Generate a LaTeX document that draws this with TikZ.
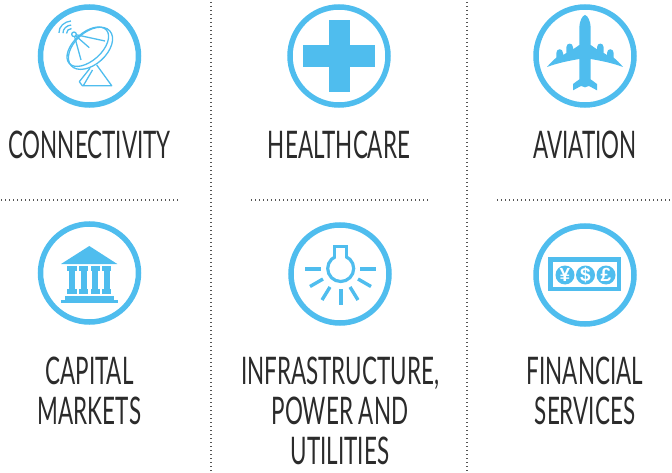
\documentclass[tikz,border=0pt]{standalone}
\usepackage{fontspec}
\setmainfont[FakeStretch=0.59]{Lato}
\newfontfamily\symf{Liberation Sans}
\definecolor{sky}{HTML}{4FBDEE}
\definecolor{ink}{HTML}{2B2B2B}
\tikzset{
  x=1pt,y=-1pt,
  ring/.style={draw=sky,line width=5.5pt,circle,minimum size=98pt,inner sep=0pt},
  lbl/.style={text=ink,font=\fontsize{38}{40}\selectfont,align=center,inner sep=0pt},
  dots/.style={draw=ink!80,line width=1.1pt,dash pattern=on 1.1pt off 2.9pt},
  thinline/.style={draw=sky,line width=1.3pt,line join=round,fill=none},
  bar/.style={draw=sky,line width=3.4pt},
  solid sky/.style={fill=sky,draw=none}
}
\begin{document}
\begin{tikzpicture}
\useasboundingbox (0,0) rectangle (672,473);
% dividers
\coordinate (v1a) at (211,2); \coordinate (v1b) at (211,472);
\coordinate (v2a) at (467,2); \coordinate (v2b) at (467,472);
\coordinate (h1a) at (1,200); \coordinate (h1b) at (179,200);
\coordinate (h2a) at (251,200); \coordinate (h2b) at (429,200);
\coordinate (h3a) at (497,200); \coordinate (h3b) at (672,200);
\draw[dots] (v1a)--(v1b); \draw[dots] (v2a)--(v2b);
\draw[dots] (h1a)--(h1b); \draw[dots] (h2a)--(h2b); \draw[dots] (h3a)--(h3b);
% rings
\node[ring] (c1) at (89.5,56) {};
\node[ring] (c2) at (339,56) {};
\node[ring] (c3) at (585,56) {};
\node[ring] (c4) at (89.5,273) {};
\node[ring] (c5) at (340,274) {};
\node[ring] (c6) at (585,275) {};
% labels
\node[lbl] (t1) at (89.5,145) {CONNECTIVITY};
\node[lbl] (t2) at (339,145) {HEALTHCARE};
\node[lbl] (t3) at (585,145) {AVIATION};
\node[lbl] (t4) at (89.5,391) {CAPITAL\\[0pt]MARKETS};
\node[lbl] (t5) at (340,411) {INFRASTRUCTURE,\\[0pt]POWER AND\\[0pt]UTILITIES};
\node[lbl] (t6) at (585,391) {FINANCIAL\\[0pt]SERVICES};
% dish
\begin{scope}[thinline]
\draw[rotate around={42:(87.8,46.7)}] (87.8,46.7) ellipse (25 and 14);
\draw[rotate around={42:(90.5,48.3)}] (90.5,48.3) ellipse (26 and 16);
\draw (74,34.3)--(81,60);
\draw (74,34.3)--(89.3,47.7);
\draw (74,34.3)--(105,41);
\draw (90,68.3)--(79.3,81.7)--(82.3,85.7)--(111.7,85.7)--(96.7,65);
\draw (92.5,70)--(83.3,85.7);
\draw[fill=white] (74,34.3) circle (2.3);
\draw (70.9,21) .. controls (64.6,21.5) and (58.5,26.6) .. (59,32.9);
\draw (71.2,25) .. controls (66.8,25.4) and (62.7,28.8) .. (63,33.2);
\draw (71.5,28.5) .. controls (68.8,28.7) and (66.3,30.8) .. (66.5,33.5);
\end{scope}
% cross
\fill[solid sky] (329,20) rectangle (350,92);
\fill[solid sky] (303,45) rectangle (375,67);
% plane
\begin{scope}[shift={(545,10)},x=0.33333pt,y=-0.33333pt]
\foreach \sx in {1,-1}{
\begin{scope}[shift={(120,0)},xscale=\sx,shift={(-120,0)}]
\fill[solid sky] (120.5,15) .. controls (112,15) and (103,35) .. (103,52)
 -- (103,105) -- (84,118) -- (84,112) .. controls (84,97) and (64,97) .. (64,112)
 -- (64,129) -- (54,135) -- (54,129) .. controls (54,114) and (34,114) .. (34,129)
 -- (34,143) .. controls (25,150) and (15,160) .. (6,171)
 .. controls (40,158) and (80,151) .. (103,147)
 -- (103,208) -- (84,222) -- (84,241) -- (108,228) -- (120.5,232) -- cycle;
\end{scope}
}
\end{scope}
% bank
\fill[solid sky] (89.3,246) -- (117.3,264) -- (61,264) -- cycle;
\foreach \xx in {72,83.7,95.3,106.7}{
 \fill[solid sky] (\xx-4.7,266) rectangle (\xx+4.7,270.5);
 \fill[solid sky] (\xx-3,270.5) rectangle (\xx+3,289);
 \fill[solid sky] (\xx-4.7,289) rectangle (\xx+4.7,294);
}
\fill[solid sky] (65,296) rectangle (114,299.5);
\fill[solid sky] (61,299.5) rectangle (117.7,302.8);
% bulb
\draw[draw=sky,line width=3.2pt] (340.7,268.5) circle (13);
\draw[draw=sky,line width=3.2pt] (334.3,258) -- (334.3,246.8) -- (346.7,246.8) -- (346.7,258);
\fill[white] (335.9,248.4) rectangle (345.1,259);
\draw[bar] (305,269)--(321,269);
\draw[bar] (360,269)--(376,269);
\draw[bar] (310,286.5)--(323,279);
\draw[bar] (371,286.5)--(358,279);
\draw[bar] (322,300)--(330,287);
\draw[bar] (358,300)--(350,287);
\draw[bar] (341,289)--(341,305);
% money
\draw[draw=sky,line width=4.5pt] (550.5,259.5) rectangle (619,289);
\node[circle,fill=sky,minimum size=19pt,inner sep=0pt,text=white,font=\symf\bfseries\fontsize{19}{19}\selectfont] (m1) at (565,275) {¥};
\node[circle,fill=sky,minimum size=19pt,inner sep=0pt,text=white,font=\symf\bfseries\fontsize{19}{19}\selectfont] (m2) at (585.5,275) {\$};
\node[circle,fill=sky,minimum size=19pt,inner sep=0pt,text=white,font=\symf\bfseries\fontsize{19}{19}\selectfont] (m3) at (606,275) {£};
\end{tikzpicture}
\end{document}
